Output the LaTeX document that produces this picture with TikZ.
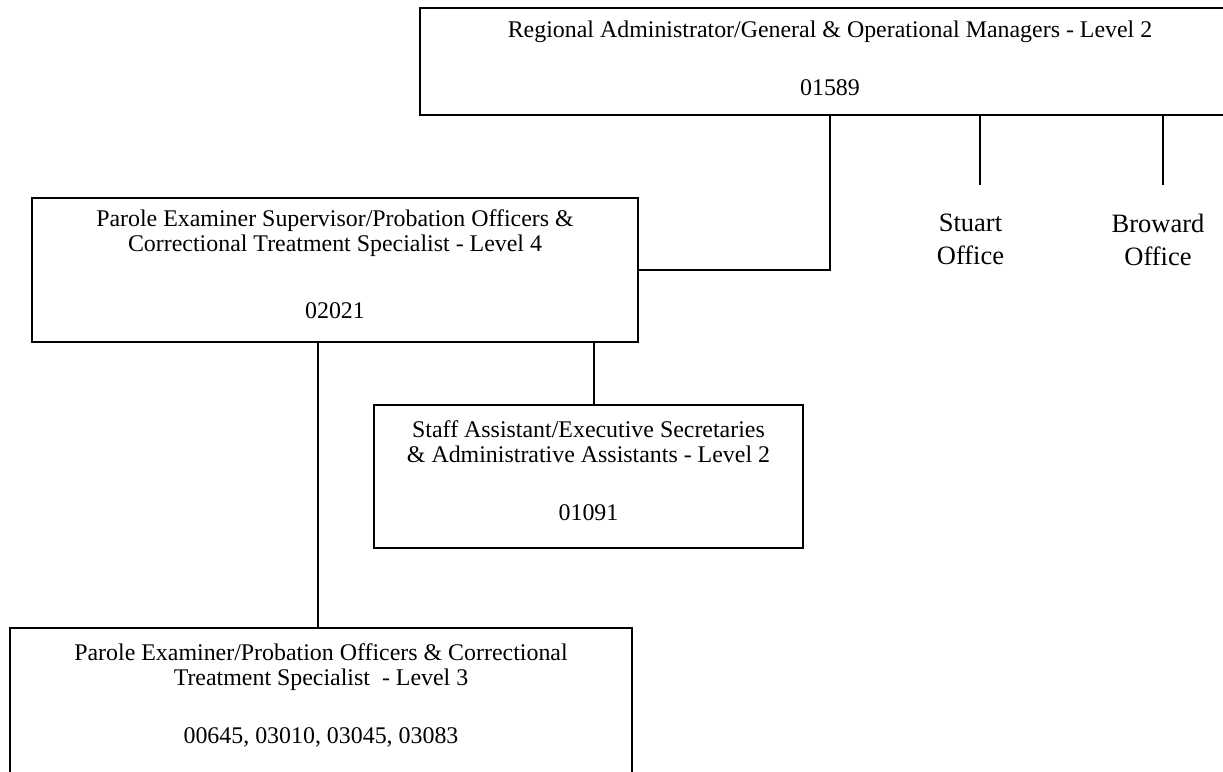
\documentclass[tikz,border=0pt]{standalone}
\usepackage{fontspec}
\setmainfont{Liberation Serif}
\usetikzlibrary{positioning}
\tikzset{
  rolebox/.style={
    rectangle, draw=black, line width=2.6pt, align=center,
    inner sep=0pt, text depth=12pt, font=\fontsize{23.9}{25}\selectfont},
  officetext/.style={
    align=center, inner sep=0pt, font=\fontsize{26.5}{33}\selectfont},
  linkline/.style={draw=black, line width=1.8pt}
}

\begin{document}
\begin{tikzpicture}[x=1pt,y=1pt]
    \useasboundingbox (0,0) rectangle (1223,771);

    % ---- regional office ---------------------------------------
    \node[rolebox, minimum width=820pt, minimum height=107pt, text depth=7pt] (region) at (830,709.5)
        {Regional Administrator/General \& Operational Managers - Level 2\\[33pt] 01589};

    % ---- supervisors -------------------------------------------
    \node[rolebox, minimum width=606pt, minimum height=144pt] (superv) at (335,501)
        {Parole Examiner Supervisor/Probation Officers \&\\
         Correctional Treatment Specialist - Level 4\\[42pt] 02021};

    \node[rolebox, minimum width=429pt, minimum height=143pt] (staff) at (588.5,294.5)
        {Staff Assistant/Executive Secretaries\\
         \& Administrative Assistants - Level 2\\[33pt] 01091};

    \node[rolebox, minimum width=622pt, minimum height=150pt, text depth=18pt] (examiner) at (321,68)
        {Parole Examiner/Probation Officers \& Correctional\\
         Treatment Specialist\ \ - Level 3\\[33pt] 00645, 03010, 03045, 03083};

    % ---- field offices -----------------------------------------
    \node[officetext, anchor=north] (stuart)  at (970.5,557) {Stuart\\Office};
    \node[officetext, anchor=north] (broward) at (1158,557)  {Broward\\Office};

    \coordinate (stuartEnd)  at (980,586);
    \coordinate (browardEnd) at (1163,586);
    \coordinate (staffTap)   at ([xshift=5.5pt]staff.north);
    \coordinate (examTap)    at ([xshift=-3pt]examiner.north);

    % ---- connectors --------------------------------------------
    \draw[linkline] (region.south) |- (superv.east);
    \draw[linkline] (stuartEnd |- region.south)  -- (stuartEnd);
    \draw[linkline] (browardEnd |- region.south) -- (browardEnd);
    \draw[linkline] (staffTap |- superv.south) -- (staffTap);
    \draw[linkline] (examTap |- superv.south)  -- (examTap);

\end{tikzpicture}
\end{document}
